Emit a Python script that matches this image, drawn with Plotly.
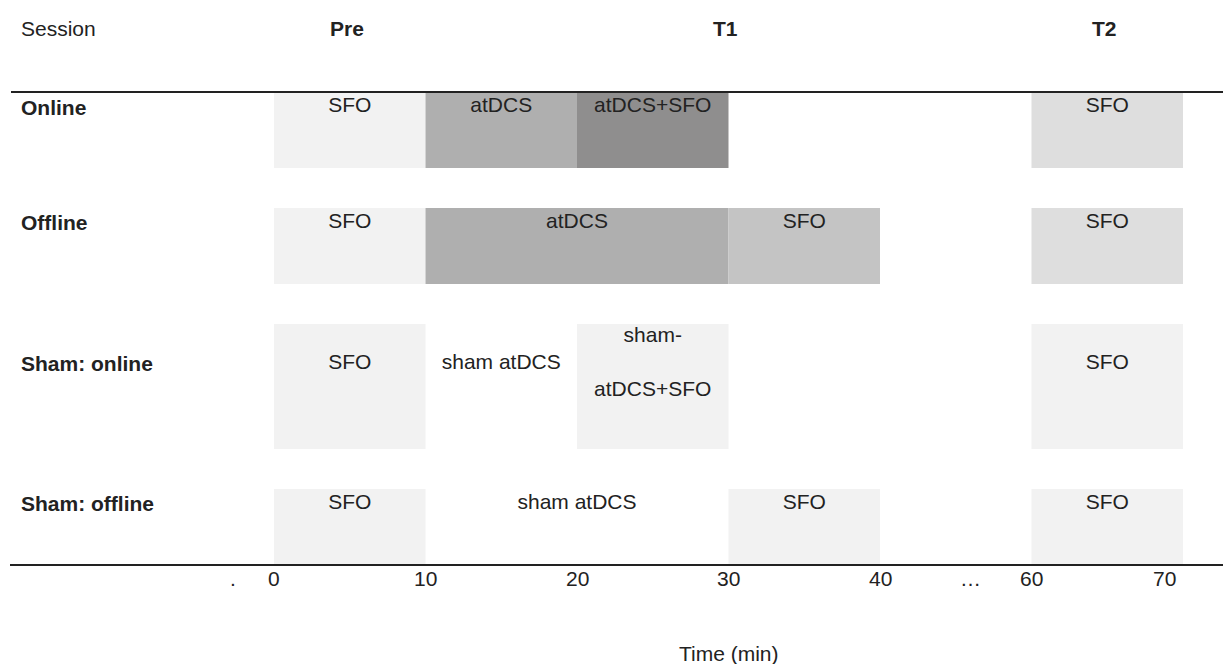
import plotly.graph_objects as go

# ---------------- data ----------------
sessions = ["Online", "Offline", "Sham: online", "Sham: offline"]

seg_session = [0, 0, 0, 0,
               1, 1, 1, 1,
               2, 2, 2, 2,
               3, 3, 3, 3]
seg_start = [0, 10, 20, 60,
             0, 10, 30, 60,
             0, 10, 20, 60,
             0, 10, 30, 60]
seg_end = [10, 20, 30, 70,
           10, 30, 40, 70,
           10, 20, 30, 70,
           10, 30, 40, 70]
seg_label = ["SFO", "atDCS", "atDCS+SFO", "SFO",
             "SFO", "atDCS", "SFO", "SFO",
             "SFO", "sham atDCS", "sham-<br><br>atDCS+SFO", "SFO",
             "SFO", "sham atDCS", "SFO", "SFO"]
seg_kind = ["pre", "atdcs", "combo", "t2",
            "pre", "atdcs", "t1", "t2",
            "pre", "sham", "shamcombo", "shampost",
            "pre", "sham", "shampost", "shampost"]

phase_names = ["Pre", "T1", "T2"]
phase_minutes = [5, 30, 65]

tick_minutes = [0, 10, 20, 30, 40, 60, 70]
tick_text = ["0", "10", "20", "30", "40", "60", "70"]

# ---------------- style ----------------
kind_color = {
    "pre": "#f2f2f2",
    "atdcs": "#afafaf",
    "combo": "#8f8e8e",
    "t1": "#c4c4c4",
    "t2": "#dedede",
    "sham": "rgba(255,255,255,0)",
    "shamcombo": "#f2f2f2",
    "shampost": "#f2f2f2",
}
TXT = "#222222"
FONT = "Liberation Sans, Arial, sans-serif"
FS = 21

W, H = 1231, 664
OFF = 8                                   # page body margin
X0_PX, X1_PX = 274 - OFF, 1183 - OFF      # pixel of display 0 and display 60
GAP_START, GAP_END = 40, 60               # axis break (40 ... 60)


def disp(t):
    """axis-break scale: the idle interval 40-60 min is shown as one 10-min slot"""
    return t if t <= GAP_START else t - (GAP_END - GAP_START - 10)


ppu = (X1_PX - X0_PX) / disp(70)
x_range = [-X0_PX / ppu, (W - X0_PX) / ppu]

# row layout (in row units, 1 unit = a single-line row height)
UNIT_PX = 76
TOP_PX = 92 - OFF
row_h = [1.0, 1.0, 1.645, 1.0]
row_gap = 0.526
row_top = []
acc = 0.0
for h in row_h:
    row_top.append(acc)
    acc += h + row_gap
row_bottom = row_top[-1] + row_h[-1]
y_range = [(H - TOP_PX) / UNIT_PX, -TOP_PX / UNIT_PX]
line_u = 25 / UNIT_PX
pad_u = 15 / UNIT_PX
row_lines = [1, 1, 3, 1]
row_text_y = [row_top[i] + pad_u + (row_lines[i] - 1) * line_u / 2 for i in range(4)]

fig = go.Figure()

fig.add_trace(go.Bar(
    orientation="h",
    y=[row_top[s] + row_h[s] / 2 for s in seg_session],
    base=[disp(a) for a in seg_start],
    x=[disp(b) - disp(a) for a, b in zip(seg_start, seg_end)],
    width=[row_h[s] for s in seg_session],
    marker=dict(color=[kind_color[k] for k in seg_kind], line=dict(width=0)),
    hoverinfo="skip",
    showlegend=False,
))

fig.add_trace(go.Scatter(
    x=[(disp(a) + disp(b)) / 2 for a, b in zip(seg_start, seg_end)],
    y=[row_text_y[s] for s in seg_session],
    mode="text",
    text=seg_label,
    textposition="middle center",
    textfont=dict(family=FONT, size=FS, color=TXT),
    hoverinfo="skip",
    showlegend=False,
))

LEFT_X = (21 - OFF - 2) / W

# row labels
for i, name in enumerate(sessions):
    fig.add_annotation(x=LEFT_X, xref="paper", y=row_text_y[i], yref="y",
                       text=f"<b>{name}</b>", showarrow=False, xanchor="left",
                       yanchor="middle", font=dict(family=FONT, size=FS, color=TXT))

# header row
head_y = (28 - OFF - TOP_PX) / UNIT_PX
fig.add_annotation(x=LEFT_X, xref="paper", y=head_y, yref="y", text="Session",
                   showarrow=False, xanchor="left", yanchor="middle",
                   font=dict(family=FONT, size=FS, color=TXT))
for name, m in zip(phase_names, phase_minutes):
    fig.add_annotation(x=disp(m), xref="x", y=head_y, yref="y", text=f"<b>{name}</b>",
                       showarrow=False, xanchor="center", yanchor="middle", xshift=-3,
                       font=dict(family=FONT, size=FS, color=TXT))

# rules
fig.add_shape(type="line", xref="paper", yref="y", x0=(11 - OFF) / W, x1=1,
              y0=row_top[0], y1=row_top[0], line=dict(color=TXT, width=2))
fig.add_shape(type="line", xref="paper", yref="y", x0=(10 - OFF) / W, x1=1,
              y0=row_bottom, y1=row_bottom, line=dict(color=TXT, width=2))

# tick labels under the bottom rule (last one sits inside its cell)
tick_y = row_bottom + 14 / UNIT_PX
for i, (m, t) in enumerate(zip(tick_minutes, tick_text)):
    last = i == len(tick_minutes) - 1
    fig.add_annotation(x=disp(m), xref="x", y=tick_y, yref="y", text=t, showarrow=False,
                       xanchor="right" if last else "center", xshift=-5 if last else 0,
                       yanchor="middle",
                       font=dict(family=FONT, size=FS, color=TXT))
fig.add_annotation(x=disp(0) - 2.7, xref="x", y=tick_y, yref="y", text=".", showarrow=False,
                   xanchor="center", yanchor="middle", font=dict(family=FONT, size=FS, color=TXT))
fig.add_annotation(x=(disp(GAP_START) + disp(GAP_END)) / 2 + 1, xref="x", y=tick_y, yref="y",
                   text="…", showarrow=False, xanchor="center", yanchor="middle",
                   font=dict(family=FONT, size=FS, color=TXT))

# axis title
fig.add_annotation(x=disp(30), xref="x", y=(653 - OFF - TOP_PX) / UNIT_PX, yref="y",
                   text="Time (min)", showarrow=False, xanchor="center", yanchor="middle",
                   font=dict(family=FONT, size=FS, color=TXT))

fig.update_xaxes(range=x_range, visible=False, fixedrange=True)
fig.update_yaxes(range=y_range, visible=False, fixedrange=True)
fig.update_layout(
    width=W, height=H,
    margin=dict(l=0, r=0, t=0, b=0),
    plot_bgcolor="white", paper_bgcolor="white",
    font=dict(family=FONT, size=FS, color=TXT),
)

fig.write_html("out.html")
